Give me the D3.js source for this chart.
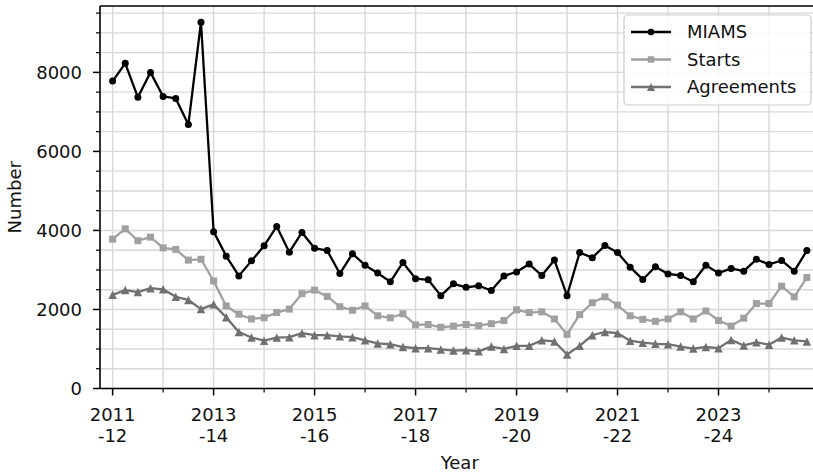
<!DOCTYPE html>
<html><head><meta charset="utf-8">
<script src="https://cdn.jsdelivr.net/npm/d3@7"></script>
<style>body{margin:0;background:#fff}svg{display:block;font-family:"DejaVu Sans",sans-serif}</style>
</head><body><svg id="c" width="813" height="473"></svg>
<script>
const years = ["2011-12","2012-13","2013-14","2014-15","2015-16","2016-17","2017-18","2018-19","2019-20","2020-21","2021-22","2022-23","2023-24","2024-25"];
const quarters = ["Q1","Q2","Q3","Q4"];
const categories = years.flatMap(y => quarters.map(q => y + " " + q));
const miams = [7780,8230,7370,8000,7390,7340,6680,9270,
  3970,3350,2850,3230,3610,4100,3450,3950,
  3550,3490,2910,3410,3120,2920,2700,3190,
  2780,2750,2350,2650,2560,2600,2480,2850,
  2950,3150,2860,3250,2350,3440,3310,3620,
  3440,3070,2760,3080,2900,2860,2700,3120,
  2920,3040,2970,3270,3140,3240,2970,3490];
const starts = [3780,4040,3740,3830,3560,3520,3250,3270,
  2720,2090,1880,1760,1790,1920,2010,2400,
  2490,2330,2070,1980,2090,1840,1790,1890,
  1610,1620,1550,1580,1620,1590,1640,1720,
  1990,1920,1940,1760,1370,1870,2170,2320,
  2110,1840,1750,1700,1760,1940,1760,1960,
  1720,1580,1780,2150,2150,2590,2320,2810];
const agreements = [2370,2490,2440,2540,2510,2320,2240,2010,
  2130,1800,1430,1290,1210,1290,1300,1400,
  1350,1350,1320,1300,1220,1140,1120,1050,
  1020,1020,990,960,970,940,1060,1000,
  1080,1080,1220,1190,860,1080,1350,1430,
  1400,1210,1160,1130,1120,1060,1010,1050,
  1020,1230,1090,1170,1110,1290,1220,1190];
const xTickLabels = ["2011\n-12","2013\n-14","2015\n-16","2017\n-18","2019\n-20","2021\n-22","2023\n-24"];
const yTickLabels = [0,2000,4000,6000,8000];
const seriesNames = ["MIAMS","Starts","Agreements"];

const svg = d3.select("#c");
const L=100, R=819.5, T=6, B=388.5;
const x = d3.scaleLinear().domain([-1, categories.length]).range([L, R]);
const y = d3.scaleLinear().domain([0, 9680]).range([B, T]);

const series = [
  {name: seriesNames[0], values: miams, color: "#000000", marker: "circle"},
  {name: seriesNames[1], values: starts, color: "#a0a0a0", marker: "square"},
  {name: seriesNames[2], values: agreements, color: "#707070", marker: "triangle"}
];

// grid
const g = svg.append("g");
const xGrid = d3.range(0, categories.length, 4);
const yGrid = d3.range(0, 9680, 500);
g.selectAll(".vg").data(xGrid).join("line")
  .attr("x1", d => x(d)).attr("x2", d => x(d)).attr("y1", T).attr("y2", B)
  .attr("stroke", "#d8d8d8").attr("stroke-width", 1.4);
g.selectAll(".hg").data(yGrid).join("line")
  .attr("y1", d => y(d)).attr("y2", d => y(d)).attr("x1", L).attr("x2", R)
  .attr("stroke", "#d8d8d8").attr("stroke-width", 1.4);

// lines and markers
function markerPath(type, s) {
  if (type === "circle") return d3.symbol(d3.symbolCircle, Math.PI * s * s / 4)();
  if (type === "square") return `M${-s/2},${-s/2}h${s}v${s}h${-s}Z`;
  return `M0,${-s/2}L${-s/2},${s/2}L${s/2},${s/2}Z`;
}
const msize = {circle: 7, square: 7, triangle: 8.5};
series.slice().reverse().forEach(sr => {
  const line = d3.line().x((d, i) => x(i)).y(d => y(d));
  svg.append("path").datum(sr.values).attr("d", line)
    .attr("fill", "none").attr("stroke", sr.color).attr("stroke-width", 2.3).attr("stroke-linejoin", "round");
  svg.append("g").selectAll("path").data(sr.values).join("path")
    .attr("transform", (d, i) => `translate(${x(i)},${y(d)})`)
    .attr("d", markerPath(sr.marker, msize[sr.marker]))
    .attr("fill", sr.color);
});

// axes
const xAxis = svg.append("g").attr("transform", `translate(0,${B})`);
xAxis.append("line").attr("x1", L).attr("x2", R).attr("stroke", "#000").attr("stroke-width", 1.6);
const majorIdx = d3.range(0, categories.length, 8);
const minorIdx = d3.range(4, categories.length, 8);
xAxis.selectAll(".mt").data(majorIdx).join("line")
  .attr("x1", d => x(d)).attr("x2", d => x(d)).attr("y1", 0).attr("y2", 7)
  .attr("stroke", "#000").attr("stroke-width", 1.5);
xAxis.selectAll(".nt").data(minorIdx).join("line")
  .attr("x1", d => x(d)).attr("x2", d => x(d)).attr("y1", 0).attr("y2", 4)
  .attr("stroke", "#000").attr("stroke-width", 1.2);
const xt = xAxis.selectAll(".xl").data(majorIdx).join("text")
  .attr("x", d => x(d)).attr("text-anchor", "middle").attr("font-size", 18).attr("fill", "#111");
xt.each(function(d, i) {
  const parts = xTickLabels[i].split("\n");
  const t = d3.select(this);
  t.append("tspan").attr("x", x(d)).attr("y", 32).text(parts[0]);
  t.append("tspan").attr("x", x(d)).attr("y", 53).text(parts[1]);
});

const yAxis = svg.append("g");
yAxis.append("line").attr("x1", L).attr("x2", L).attr("y1", T).attr("y2", B).attr("stroke", "#000").attr("stroke-width", 1.6);
svg.append("line").attr("x1", L).attr("x2", R).attr("y1", T).attr("y2", T).attr("stroke", "#000").attr("stroke-width", 1.6);
yAxis.selectAll(".ymt").data(yTickLabels).join("line")
  .attr("x1", L - 7).attr("x2", L).attr("y1", d => y(d)).attr("y2", d => y(d))
  .attr("stroke", "#000").attr("stroke-width", 1.5);
yAxis.selectAll(".ynt").data(yGrid.filter(v => v % 2000 !== 0)).join("line")
  .attr("x1", L - 4).attr("x2", L).attr("y1", d => y(d)).attr("y2", d => y(d))
  .attr("stroke", "#000").attr("stroke-width", 1.2);
yAxis.selectAll(".yl").data(yTickLabels).join("text")
  .attr("x", L - 18).attr("y", d => y(d)).attr("dy", "0.36em")
  .attr("text-anchor", "end").attr("font-size", 18).attr("fill", "#111").text(d => d);

svg.append("text").attr("x", (L + R) / 2).attr("y", 469).attr("text-anchor", "middle")
  .attr("font-size", 18).attr("fill", "#111").text("Year");
svg.append("text").attr("transform", `translate(21,${(T + B) / 2}) rotate(-90)`).attr("text-anchor", "middle")
  .attr("font-size", 18).attr("fill", "#111").text("Number");

// legend
const lg = svg.append("g");
lg.append("rect").attr("x", 624).attr("y", 15).attr("width", 187).attr("height", 90).attr("rx", 4)
  .attr("fill", "#fff").attr("fill-opacity", 0.85).attr("stroke", "#cccccc").attr("stroke-width", 1.2);
series.forEach((sr, i) => {
  const yy = 32 + i * 27.5;
  lg.append("line").attr("x1", 631).attr("x2", 671).attr("y1", yy).attr("y2", yy)
    .attr("stroke", sr.color).attr("stroke-width", 2.3);
  lg.append("path").attr("transform", `translate(651,${yy})`).attr("d", markerPath(sr.marker, msize[sr.marker] - 0.5)).attr("fill", sr.color);
  lg.append("text").attr("x", 687).attr("y", yy).attr("dy", "0.36em").attr("font-size", 18).attr("fill", "#111").text(sr.name);
});
</script></body></html>
